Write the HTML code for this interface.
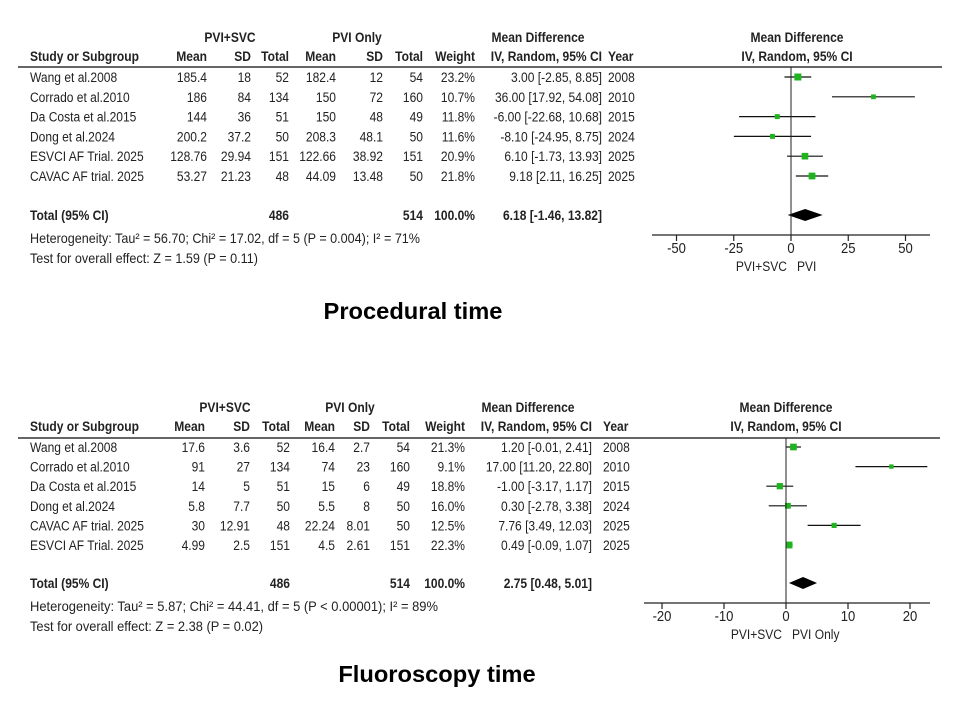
<!DOCTYPE html>
<html><head><meta charset="utf-8"><style>
body{margin:0;background:#fff;}
svg{display:block;font-family:"Liberation Sans",Arial,sans-serif;}
.t{font-size:14px;fill:#222;}
.b{font-weight:bold;}
</style></head><body>
<svg id="s" width="960" height="720" viewBox="0 0 960 720"></svg>
<script>
// ---- Procedural time data ----
const studies1 = ["Wang et al.2008","Corrado et al.2010","Da Costa et al.2015","Dong et al.2024","ESVCI AF Trial. 2025","CAVAC AF trial. 2025"];
const mean1a = ["185.4","186","144","200.2","128.76","53.27"];
const sd1a = ["18","84","36","37.2","29.94","21.23"];
const n1a = ["52","134","51","50","151","48"];
const mean1b = ["182.4","150","150","208.3","122.66","44.09"];
const sd1b = ["12","72","48","48.1","38.92","13.48"];
const n1b = ["54","160","49","50","151","50"];
const weight1 = [23.2,10.7,11.8,11.6,20.9,21.8];
const md1 = [3.00,36.00,-6.00,-8.10,6.10,9.18];
const lo1 = [-2.85,17.92,-22.68,-24.95,-1.73,2.11];
const hi1 = [8.85,54.08,10.68,8.75,13.93,16.25];
const year1 = ["2008","2010","2015","2024","2025","2025"];
const total1 = {md:6.18, lo:-1.46, hi:13.82, na:"486", nb:"514"};
const ticks1 = [-50,-25,0,25,50];
// ---- Fluoroscopy time data ----
const studies2 = ["Wang et al.2008","Corrado et al.2010","Da Costa et al.2015","Dong et al.2024","CAVAC AF trial. 2025","ESVCI AF Trial. 2025"];
const mean2a = ["17.6","91","14","5.8","30","4.99"];
const sd2a = ["3.6","27","5","7.7","12.91","2.5"];
const n2a = ["52","134","51","50","48","151"];
const mean2b = ["16.4","74","15","5.5","22.24","4.5"];
const sd2b = ["2.7","23","6","8","8.01","2.61"];
const n2b = ["54","160","49","50","50","151"];
const weight2 = [21.3,9.1,18.8,16.0,12.5,22.3];
const md2 = [1.20,17.00,-1.00,0.30,7.76,0.49];
const lo2 = [-0.01,11.20,-3.17,-2.78,3.49,-0.09];
const hi2 = [2.41,22.80,1.17,3.38,12.03,1.07];
const year2 = ["2008","2010","2015","2024","2025","2025"];
const total2 = {md:2.75, lo:0.48, hi:5.01, na:"486", nb:"514"};
const ticks2 = [-20,-10,0,10,20];

const NS="http://www.w3.org/2000/svg";
const svg=document.getElementById('s');
const SX=0.86;
function mk(tag,attrs,parent){const e=document.createElementNS(NS,tag);for(const k in attrs)e.setAttribute(k,attrs[k]);(parent||svg).appendChild(e);return e;}
function txt(g,x,y,s,anchor,bold,size,sx){
  sx=sx||SX;
  const e=mk('text',{x:x/sx,y:y,'text-anchor':anchor||'start',class:'t'+(bold?' b':''),transform:`scale(${sx},1)`},g);
  if(size)e.style.fontSize=size+'px';
  e.textContent=s;return e;}
function fit(g,x,y,s,w){
  const e=mk('text',{x:x,y:y,class:'t',textLength:w,lengthAdjust:'spacingAndGlyphs'},g);
  e.textContent=s;return e;}
function f2(v){return v.toFixed(2);}

function panel(o){
  const g=mk('g',{});
  
  
  const C=o.cols, T=o.top;
  txt(g,o.grpA,T,"PVI+SVC","middle",true);
  txt(g,o.grpB,T,"PVI Only","middle",true);
  txt(g,o.grpMD,T,"Mean Difference","middle",true);
  txt(g,o.plotMid,T,"Mean Difference","middle",true);
  const H=T+19;
  txt(g,30,H,"Study or Subgroup","start",true);
  const hd=["Mean","SD","Total","Mean","SD","Total","Weight","IV, Random, 95% CI"];
  hd.forEach((h,i)=>txt(g,C[i],H,h,"end",true));
  txt(g,C[8],H,"Year","start",true);
  txt(g,o.plotMid,H,"IV, Random, 95% CI","middle",true);
  const hl=mk('line',{x1:18,x2:o.lineEnd,y1:o.lineY,y2:o.lineY,stroke:'#333','stroke-width':1.5},g);
  
  
  const X=v=>o.zero+v*o.scale;
  o.studies.forEach((s,i)=>{
    const y=o.rows0+i*o.rowH;
    const r=mk('g',{},g);
    
    
    txt(r,30,y+5,s,"start");
    const vals=[o.ma[i],o.sa[i],o.na[i],o.mb[i],o.sb[i],o.nb[i],o.w[i].toFixed(1)+"%",f2(o.md[i])+" ["+f2(o.lo[i])+", "+f2(o.hi[i])+"]"];
    vals.forEach((v,j)=>txt(r,C[j],y+5,v,"end"));
    txt(r,C[8],y+5,o.yr[i],"start");
    const ci=mk('line',{x1:X(o.lo[i]),x2:X(o.hi[i]),y1:y,y2:y,stroke:'#111','stroke-width':1.2},r);
    
    
    const sz=Math.max(3,Math.sqrt(o.w[i])*o.sq);
    const sq=mk('rect',{x:X(o.md[i])-sz/2,y:y-sz/2,width:sz,height:sz,fill:'#1fb31f'},r);
    
    
  });
  const ty=o.totY;
  txt(g,30,ty+5,"Total (95% CI)","start",true);
  txt(g,C[2],ty+5,o.tot.na,"end",true);
  txt(g,C[5],ty+5,o.tot.nb,"end",true);
  txt(g,C[6],ty+5,"100.0%","end",true);
  txt(g,C[7],ty+5,f2(o.tot.md)+" ["+f2(o.tot.lo)+", "+f2(o.tot.hi)+"]","end",true);
  const dm=mk('polygon',{points:`${X(o.tot.lo)},${ty} ${X(o.tot.md)},${ty-6} ${X(o.tot.hi)},${ty} ${X(o.tot.md)},${ty+6}`,fill:'#000'},g);
  
  
  fit(g,30,ty+28,o.het,o.hetW);
  fit(g,30,ty+48,o.test,o.testW);
  const zl=mk('line',{x1:X(0),x2:X(0),y1:o.lineY,y2:o.axY,stroke:'#222','stroke-width':1},g);
  
  
  const ax=mk('line',{x1:o.axX1,x2:o.axX2,y1:o.axY,y2:o.axY,stroke:'#222','stroke-width':1.2},g);
  
  
  o.ticks.forEach(t=>{
    const tk=mk('line',{x1:X(t),x2:X(t),y1:o.axY,y2:o.axY+6,stroke:'#222','stroke-width':1.2},g);
    
    
    const tl=txt(g,X(t),o.axY+18,String(t),"middle",false,14.5,0.9);
    
    
  });
  txt(g,X(0)-4,o.axY+36,"PVI+SVC","end");
  txt(g,X(0)+6,o.axY+36,o.favB,"start");
  const tt=txt(g,o.titleX,o.titleY,o.title,"middle",true,23,1.03);
  
  
  tt.style.fill='#000';
}

panel({name:'procedural-time-forest-plot',top:42,cols:[207,251,289,336,383,423,475,602,608],
  grpA:230,grpB:357,grpMD:538,plotMid:797,lineY:67,lineEnd:942,
  studies:studies1,ma:mean1a,sa:sd1a,na:n1a,mb:mean1b,sb:sd1b,nb:n1b,w:weight1,md:md1,lo:lo1,hi:hi1,yr:year1,tot:total1,
  rows0:77,rowH:19.8,totY:215,zero:791,scale:2.29,sq:1.45,axY:235,axX1:652,axX2:930,ticks:ticks1,favB:"PVI",
  het:"Heterogeneity: Tau² = 56.70; Chi² = 17.02, df = 5 (P = 0.004); I² = 71%",hetW:390,
  test:"Test for overall effect: Z = 1.59 (P = 0.11)",testW:228,title:"Procedural time",titleX:413,titleY:319});

panel({name:'fluoroscopy-time-forest-plot',top:412,cols:[205,250,290,335,370,410,465,592,603],
  grpA:225,grpB:350,grpMD:528,plotMid:786,lineY:438,lineEnd:940,
  studies:studies2,ma:mean2a,sa:sd2a,na:n2a,mb:mean2b,sb:sd2b,nb:n2b,w:weight2,md:md2,lo:lo2,hi:hi2,yr:year2,tot:total2,
  rows0:447,rowH:19.6,totY:583,zero:786,scale:6.2,sq:1.45,axY:603,axX1:644,axX2:930,ticks:ticks2,favB:"PVI Only",
  het:"Heterogeneity: Tau² = 5.87; Chi² = 44.41, df = 5 (P < 0.00001); I² = 89%",hetW:408,
  test:"Test for overall effect: Z = 2.38 (P = 0.02)",testW:233,title:"Fluoroscopy time",titleX:437,titleY:682});
</script>
</body></html>
